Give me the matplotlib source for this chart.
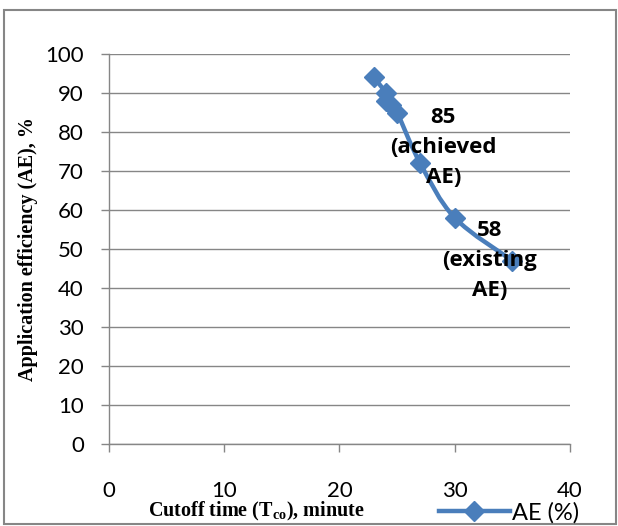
import numpy as np
import matplotlib
matplotlib.use("Agg")
import matplotlib.pyplot as plt
from matplotlib.path import Path
from matplotlib.patches import PathPatch, Rectangle
from matplotlib.lines import Line2D

# data
cutoff_time = [23, 24, 24, 24.5, 25, 27, 30, 35]
app_eff = [94, 90, 88, 87, 85, 72, 58, 47]
x_ticks = [0, 10, 20, 30, 40]
y_ticks = [0, 10, 20, 30, 40, 50, 60, 70, 80, 90, 100]
notes = ["85\n(achieved\nAE)", "58\n(existing\nAE)"]
note_xy = [(29.0, 76.0), (33.0, 47.0)]

blue = "#4A7EBB"
grey = "#868686"

plt.rcParams['mathtext.fontset'] = 'custom'
plt.rcParams['mathtext.rm'] = 'Liberation Serif:bold'


def smooth_path(ax, xs, ys):
    # excel-like bezier smoothing, done in screen space
    pts = ax.transData.transform(np.column_stack([xs, ys]))
    n = len(pts)
    verts = [pts[0]]
    codes = [Path.MOVETO]
    for i in range(n - 1):
        p0 = pts[i - 1] if i > 0 else pts[i]
        p1 = pts[i]
        p2 = pts[i + 1]
        p3 = pts[i + 2] if i + 2 < n else pts[i + 1]
        c1 = p1 + (p2 - p0) / 6.0
        c2 = p2 - (p3 - p1) / 6.0
        verts += [c1, c2, p2]
        codes += [Path.CURVE4] * 3
    verts = ax.transData.inverted().transform(np.array(verts))
    return Path(verts, codes)


def main():
    fig = plt.figure(figsize=(6.18, 5.26), dpi=100)
    ax = fig.add_axes([0.1764, 0.1559, 0.7459, 0.7414])

    ax.set_xlim(0, 40)
    ax.set_ylim(0, 100)
    ax.set_xticks(x_ticks)
    ax.set_yticks(y_ticks)
    ax.yaxis.grid(True, color=grey, linewidth=1.0)
    ax.set_axisbelow(True)
    for s in ["top", "right"]:
        ax.spines[s].set_visible(False)
    for s in ["left", "bottom"]:
        ax.spines[s].set_color(grey)
        ax.spines[s].set_linewidth(1.0)
    ax.tick_params(axis="both", direction="out", length=6, width=1.0,
                   color=grey, labelsize=16)
    ax.tick_params(axis="y", pad=12)
    ax.tick_params(axis="x", pad=21)
    for lab in ax.get_xticklabels() + ax.get_yticklabels():
        lab.set_fontfamily("Lato")

    path = smooth_path(ax, cutoff_time, app_eff)
    ax.add_patch(PathPatch(path, facecolor="none", edgecolor=blue,
                           linewidth=3.2, zorder=3))
    ax.plot(cutoff_time, app_eff, linestyle="none", marker="D",
            markersize=10, color=blue, zorder=4)

    for txt, (x, y) in zip(notes, note_xy):
        ax.text(x, y, txt, ha="center", va="center", fontsize=16,
                fontweight="bold", family="Open Sans", linespacing=1.55,
                zorder=5)

    fig.text(0.045, 0.527, "Application efficiency (AE), %", rotation=90,
             ha="center", va="center", fontsize=14.5, fontweight="bold",
             family="Liberation Serif")
    fig.text(0.415, 0.027, r"Cutoff time (T$_{\mathrm{co}}$), minute",
             ha="center", va="center", fontsize=14.5, fontweight="bold",
             family="Liberation Serif")

    handle = Line2D([], [], color=blue, linewidth=3.2, marker="D",
                    markersize=10)
    fig.legend([handle], ["AE (%)"], loc="center",
               bbox_to_anchor=(0.824, 0.025), frameon=False,
               handlelength=3.0, handletextpad=0.1,
               prop={"family": "Lato", "size": 17})

    fig.patches.append(Rectangle((0.006, 0.003), 0.99, 0.978,
                                 transform=fig.transFigure, fill=False,
                                 edgecolor=grey, linewidth=1.5))

    fig.savefig("out.png", dpi=100)


if __name__ == "__main__":
    main()
